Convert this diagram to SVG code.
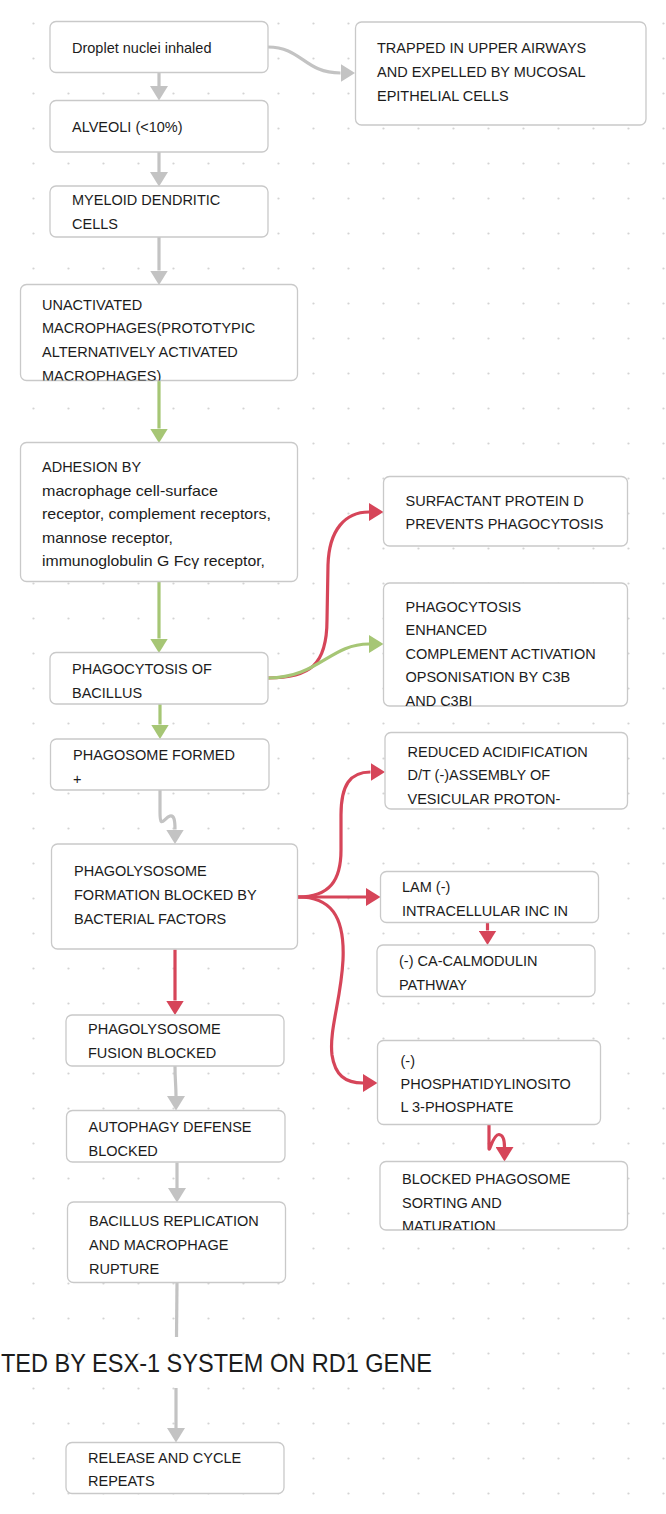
<svg xmlns="http://www.w3.org/2000/svg" width="666" height="1514" viewBox="0 0 666 1514">
<style>
.bg{fill:#ffffff}
.box{fill:#ffffff;stroke:#c9c9c9;stroke-width:1.3}
.t{font-family:"Liberation Sans",Arial,sans-serif;font-size:14.5px;fill:#1c1c1c}
.big{font-family:"Liberation Sans",Arial,sans-serif;font-size:25.5px;fill:#1c1c1c}
.g{fill:none;stroke:#c3c3c3;stroke-width:3.2}
.gr{fill:none;stroke:#a6c675;stroke-width:3.2}
.r{fill:none;stroke:#d64559;stroke-width:3.2}
</style>
<defs>
<pattern id="dots" x="33" y="23" width="35" height="35" patternUnits="userSpaceOnUse">
<circle cx="0.5" cy="0.5" r="1.1" fill="#d4d4d4"/>
<circle cx="35.5" cy="0.5" r="1.1" fill="#d4d4d4"/>
<circle cx="0.5" cy="35.5" r="1.1" fill="#d4d4d4"/>
<circle cx="35.5" cy="35.5" r="1.1" fill="#d4d4d4"/>
</pattern>
<marker id="ag" markerUnits="userSpaceOnUse" markerWidth="15" markerHeight="18" refX="0" refY="9" orient="auto"><path d="M0,0 L14.5,9 L0,18 z" fill="#c3c3c3"/></marker>
<marker id="agr" markerUnits="userSpaceOnUse" markerWidth="15" markerHeight="18" refX="0" refY="9" orient="auto"><path d="M0,0 L14.5,9 L0,18 z" fill="#a6c675"/></marker>
<marker id="ar" markerUnits="userSpaceOnUse" markerWidth="15" markerHeight="18" refX="0" refY="9" orient="auto"><path d="M0,0 L14.5,9 L0,18 z" fill="#d64559"/></marker>
<clipPath id="c5"><rect x="20.5" y="284.5" width="277" height="96"/></clipPath>
<clipPath id="c6"><rect x="20.5" y="442.5" width="277" height="139"/></clipPath>
<clipPath id="c8"><rect x="383.5" y="583" width="244" height="123"/></clipPath>
<clipPath id="c16"><rect x="380" y="1161.5" width="247.5" height="68.5"/></clipPath>
</defs>
<rect class="bg" x="0" y="0" width="666" height="1514"/>
<rect x="0" y="0" width="666" height="1514" fill="url(#dots)"/>

<g id="connectors">
<path class="g" d="M268,47 C302,47 304,73 340.5,73" marker-end="url(#ag)"/>
<path class="g" d="M159,72.5 L159,86" marker-end="url(#ag)"/>
<path class="g" d="M159,152 L159,172" marker-end="url(#ag)"/>
<path class="g" d="M159,237 L159,270.5" marker-end="url(#ag)"/>
<path class="gr" d="M159,380.5 L159,428.5" marker-end="url(#agr)"/>
<path class="gr" d="M159,581.5 L159,638.5" marker-end="url(#agr)"/>
<path class="r" d="M268,678 C310,678 327,665 327,620 L328,565 C329,530 345,512 369,512" marker-end="url(#ar)"/>
<path class="gr" d="M268,678 C318,678 330,644 369,644" marker-end="url(#agr)"/>
<path class="gr" d="M160,704 L160,724.5" marker-end="url(#agr)"/>
<path class="g" d="M160,790 L160,812 C160,830 164,818 170,816 C174,815 175,820 175,829.5" marker-end="url(#ag)"/>
<path class="r" d="M298,897 C330,897 341,880 341,850 L341,815 C341,785 350,772 370.5,772" marker-end="url(#ar)"/>
<path class="r" d="M298,897 L366,897" marker-end="url(#ar)"/>
<path class="r" d="M298,897 C330,897 345,915 343,960 C341,1000 329,1030 332,1055 C335,1075 345,1083 363,1083" marker-end="url(#ar)"/>
<path class="r" d="M487.5,922.5 L487.5,930.5" marker-end="url(#ar)"/>
<path class="r" d="M489,1124.5 L489,1148 C489,1154 493,1134 499,1134.5 C503.5,1135 504.5,1140 504.5,1147" marker-end="url(#ar)"/>
<path class="r" d="M175,949.5 L175,1000.5" marker-end="url(#ar)"/>
<path class="g" d="M175,1066 C175,1080 176,1085 176,1096" marker-end="url(#ag)"/>
<path class="g" d="M177,1162.5 L177,1188" marker-end="url(#ag)"/>
<path class="g" d="M177,1283 L176.5,1337"/>
<path class="g" d="M176,1388 L176,1428" marker-end="url(#ag)"/>
</g>

<g id="n1"><rect class="box" x="50" y="21.5" width="218" height="51" rx="6"/><text class="t" x="72" y="52.5">Droplet nuclei inhaled</text></g>
<g id="n2"><rect class="box" x="355.5" y="22" width="290.5" height="103" rx="6"/><text class="t" x="377"><tspan x="377" y="53">TRAPPED IN UPPER AIRWAYS</tspan><tspan x="377" y="77">AND EXPELLED BY MUCOSAL</tspan><tspan x="377" y="101">EPITHELIAL CELLS</tspan></text></g>
<g id="n3"><rect class="box" x="50" y="100.5" width="218" height="51.5" rx="6"/><text class="t" x="72" y="132">ALVEOLI (&lt;10%)</text></g>
<g id="n4"><rect class="box" x="50" y="186" width="218" height="51" rx="6"/><text class="t"><tspan x="72" y="205">MYELOID DENDRITIC</tspan><tspan x="72" y="229">CELLS</tspan></text></g>
<g id="n5"><rect class="box" x="20.5" y="284.5" width="277" height="96" rx="6"/><text class="t" clip-path="url(#c5)"><tspan x="42" y="309.5">UNACTIVATED</tspan><tspan x="42" y="333">MACROPHAGES(PROTOTYPIC</tspan><tspan x="42" y="357">ALTERNATIVELY ACTIVATED</tspan><tspan x="42" y="381">MACROPHAGES)</tspan></text></g>
<g id="n6"><rect class="box" x="20.5" y="442.5" width="277" height="139" rx="6"/><text class="t" clip-path="url(#c6)"><tspan x="42" y="472">ADHESION BY</tspan><tspan x="42" y="495.5" textLength="176" lengthAdjust="spacingAndGlyphs">macrophage cell-surface</tspan><tspan x="42" y="519" textLength="229" lengthAdjust="spacingAndGlyphs">receptor, complement receptors,</tspan><tspan x="42" y="542.5" textLength="131" lengthAdjust="spacingAndGlyphs">mannose receptor,</tspan><tspan x="42" y="566" textLength="223" lengthAdjust="spacingAndGlyphs">immunoglobulin G Fcγ receptor,</tspan></text></g>
<g id="n7"><rect class="box" x="383.5" y="476.5" width="244" height="69.5" rx="6"/><text class="t"><tspan x="405.5" y="505.5">SURFACTANT PROTEIN D</tspan><tspan x="405.5" y="529">PREVENTS PHAGOCYTOSIS</tspan></text></g>
<g id="n8"><rect class="box" x="383.5" y="583" width="244" height="123" rx="6"/><text class="t" clip-path="url(#c8)"><tspan x="405.5" y="611.5">PHAGOCYTOSIS</tspan><tspan x="405.5" y="635">ENHANCED</tspan><tspan x="405.5" y="658.5">COMPLEMENT ACTIVATION</tspan><tspan x="405.5" y="682">OPSONISATION BY C3B</tspan><tspan x="405.5" y="705.5">AND C3BI</tspan></text></g>
<g id="n9"><rect class="box" x="50" y="652.5" width="218" height="51.5" rx="6"/><text class="t"><tspan x="72" y="674">PHAGOCYTOSIS OF</tspan><tspan x="72" y="697.5">BACILLUS</tspan></text></g>
<g id="n10"><rect class="box" x="50.5" y="739" width="218.5" height="51" rx="6"/><text class="t"><tspan x="73" y="760">PHAGOSOME FORMED</tspan><tspan x="73" y="784">+</tspan></text></g>
<g id="n11"><rect class="box" x="51.5" y="844" width="246" height="105" rx="6"/><text class="t"><tspan x="74" y="876">PHAGOLYSOSOME</tspan><tspan x="74" y="900">FORMATION BLOCKED BY</tspan><tspan x="74" y="923.5">BACTERIAL FACTORS</tspan></text></g>
<g id="n12"><rect class="box" x="385" y="732.5" width="242.5" height="76.5" rx="6"/><text class="t"><tspan x="407.5" y="756.5">REDUCED ACIDIFICATION</tspan><tspan x="407.5" y="780">D/T (-)ASSEMBLY OF</tspan><tspan x="407.5" y="803.5">VESICULAR PROTON-</tspan></text></g>
<g id="n13"><rect class="box" x="380.5" y="871.5" width="218" height="51" rx="6"/><text class="t"><tspan x="402" y="891.5">LAM (-)</tspan><tspan x="402" y="915.5">INTRACELLULAR INC IN</tspan></text></g>
<g id="n14"><rect class="box" x="377" y="945" width="218" height="51.5" rx="6"/><text class="t"><tspan x="399" y="965.5">(-) CA-CALMODULIN</tspan><tspan x="399" y="989.5">PATHWAY</tspan></text></g>
<g id="n15"><rect class="box" x="377.5" y="1040.5" width="223" height="84" rx="6"/><text class="t"><tspan x="400.5" y="1065.5">(-)</tspan><tspan x="400.5" y="1088.5">PHOSPHATIDYLINOSITO</tspan><tspan x="400.5" y="1112">L 3-PHOSPHATE</tspan></text></g>
<g id="n16"><rect class="box" x="380" y="1161.5" width="247.5" height="68.5" rx="6"/><text class="t" clip-path="url(#c16)"><tspan x="402" y="1183.5">BLOCKED PHAGOSOME</tspan><tspan x="402" y="1207.5">SORTING AND</tspan><tspan x="402" y="1230.5">MATURATION</tspan></text></g>
<g id="n17"><rect class="box" x="66" y="1015" width="218" height="51" rx="6"/><text class="t"><tspan x="88" y="1034">PHAGOLYSOSOME</tspan><tspan x="88" y="1058">FUSION BLOCKED</tspan></text></g>
<g id="n18"><rect class="box" x="66.5" y="1110.5" width="218.5" height="51.5" rx="6"/><text class="t"><tspan x="88.5" y="1131.5">AUTOPHAGY DEFENSE</tspan><tspan x="88.5" y="1155.5">BLOCKED</tspan></text></g>
<g id="n19"><rect class="box" x="67.5" y="1202" width="218" height="80.5" rx="6"/><text class="t"><tspan x="89" y="1226">BACILLUS REPLICATION</tspan><tspan x="89" y="1249.5">AND MACROPHAGE</tspan><tspan x="89" y="1273.5">RUPTURE</tspan></text></g>
<g id="n20"><rect class="box" x="66" y="1442.5" width="218" height="51" rx="6"/><text class="t"><tspan x="88" y="1462.5">RELEASE AND CYCLE</tspan><tspan x="88" y="1486">REPEATS</tspan></text></g>
<g id="label-esx"><text class="big" x="1" y="1372" textLength="431" lengthAdjust="spacingAndGlyphs">TED BY ESX-1 SYSTEM ON RD1 GENE</text></g>
</svg>
